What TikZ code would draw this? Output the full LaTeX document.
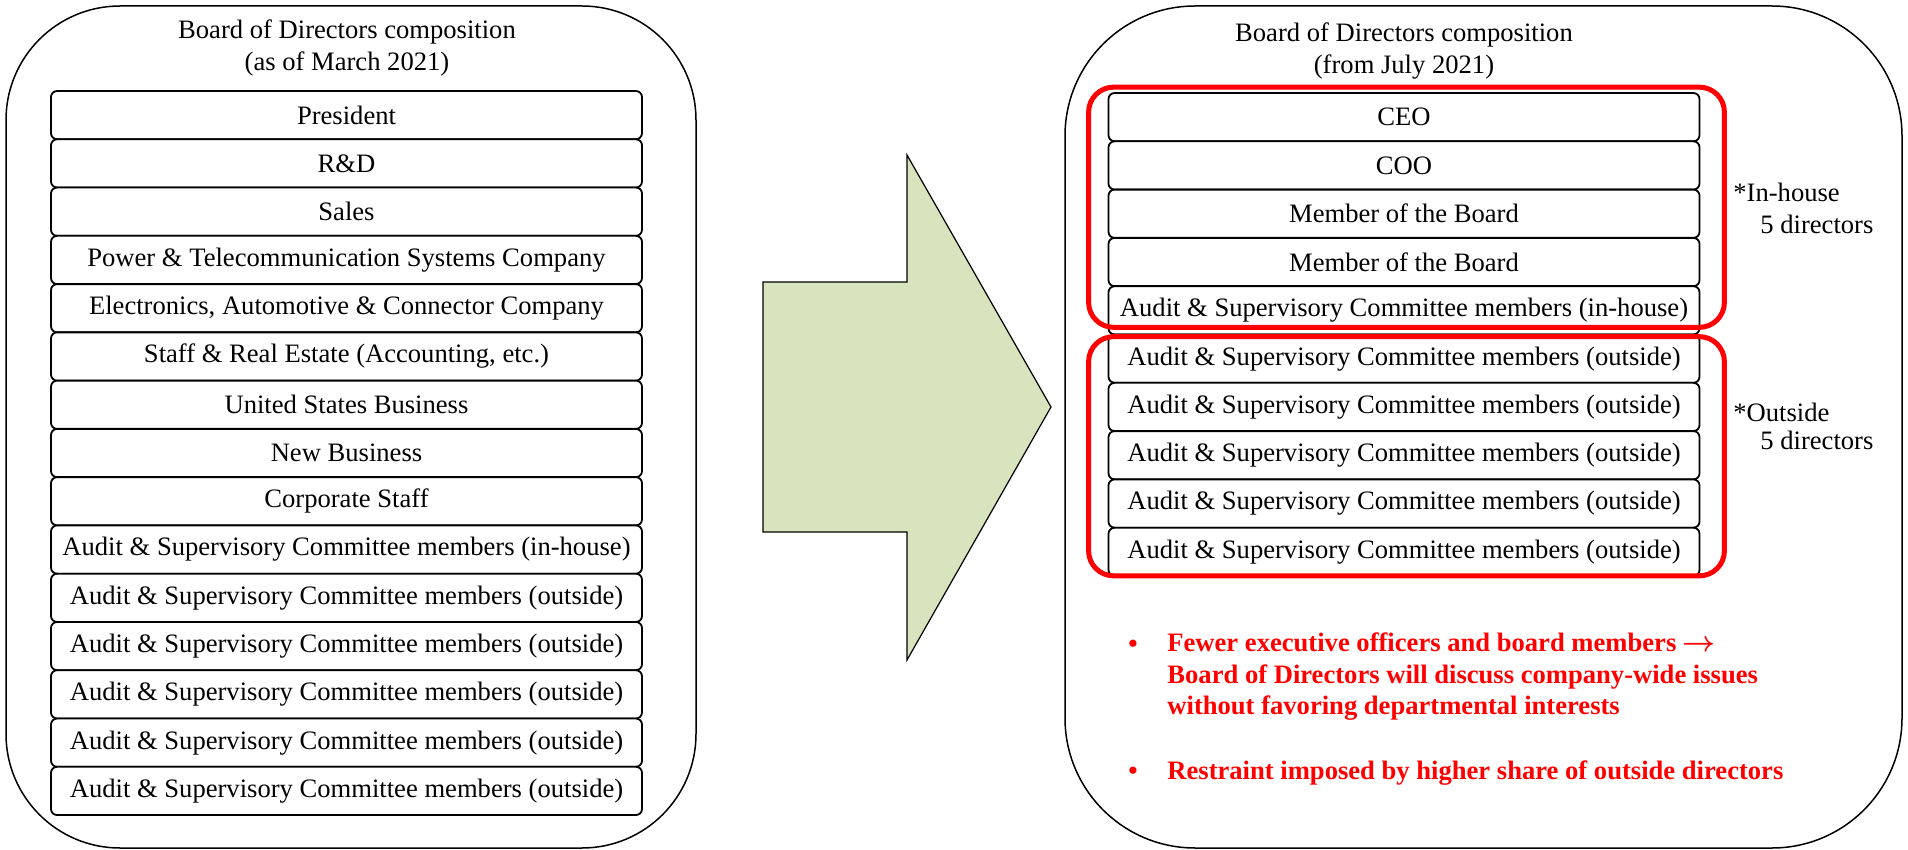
\documentclass[tikz,border=0pt]{standalone}
\usepackage{fontspec}
\setmainfont{Liberation Serif}
\usetikzlibrary{calc}
\definecolor{ArrowClr}{RGB}{215,228,189}
\definecolor{FrameRed}{RGB}{255,0,0}

\begin{document}
\begin{tikzpicture}[x=0.5pt,y=-0.5pt,
  board/.style={draw=black,line width=0.75pt},
  seat/.style={draw=black,line width=0.9pt,rounded corners=3pt,fill=white,
    minimum width=295.5pt,minimum height=24.1pt,inner sep=0pt,
    font=\fontsize{13.3}{15.6}\selectfont},
  heading/.style={align=center,font=\fontsize{13.3}{15.6}\selectfont},
  redframe/.style={draw=FrameRed,line width=2.5pt,rounded corners=12.5pt},
  note/.style={anchor=west,inner sep=0pt,font=\fontsize{13.3}{15.6}\selectfont},
  point/.style={anchor=west,inner sep=0pt,text=FrameRed,align=left,
    font=\bfseries\fontsize{13.3}{15.75}\selectfont}]

\useasboundingbox (0,0) rectangle (1908,850);

\draw[board,rounded corners=57pt] (6,6) rectangle (696,848);
\draw[board,rounded corners=65pt] (1065,6) rectangle (1902,848);

\node[heading] (oldtitle) at (347,48) {Board of Directors composition\\(as of March 2021)};
\node[heading] (newtitle) at (1404,51) {Board of Directors composition\\(from July 2021)};

\foreach \name [count=\i] in {President,R\&D,Sales,
    Power \& Telecommunication Systems Company,
    {Electronics, Automotive \& Connector Company},
    {Staff \& Real Estate (Accounting, etc.)},
    United States Business,New Business,Corporate Staff,
    Audit \& Supervisory Committee members (in-house),
    Audit \& Supervisory Committee members (outside),
    Audit \& Supervisory Committee members (outside),
    Audit \& Supervisory Committee members (outside),
    Audit \& Supervisory Committee members (outside),
    Audit \& Supervisory Committee members (outside)}
  \node[seat] (L\i) at (346.5,{91+48.27*(\i-0.5)}) {\name};

\foreach \name [count=\i] in {CEO,COO,Member of the Board,Member of the Board,
    Audit \& Supervisory Committee members (in-house),
    Audit \& Supervisory Committee members (outside),
    Audit \& Supervisory Committee members (outside),
    Audit \& Supervisory Committee members (outside),
    Audit \& Supervisory Committee members (outside),
    Audit \& Supervisory Committee members (outside)}
  \node[seat] (R\i) at (1404,{93+48.3*(\i-0.5)}) {\name};

\draw[redframe] ($(R1.north west)+(-19,-5)$) rectangle ($(R5.south east)+(24,-8)$);
\draw[redframe] ($(R6.north west)+(-19,3)$) rectangle ($(R10.south east)+(24,-1)$);

\draw[draw=black,fill=ArrowClr,line width=0.6pt] (763,282) -- (907,282) -- (907,155)
  -- (1051,407) -- (907,660) -- (907,532) -- (763,532) -- cycle;

\node[note] (inhouse) at (1733,192) {*In-house};
\node[note] (inhousecount) at (1760,224) {5 directors};
\node[note] (outside) at (1733,412) {*Outside};
\node[note] (outsidecount) at (1760,440) {5 directors};

\node[point] (dot1) at (1128,646) {\textbullet};
\node[point] (point1) at (1167,677) {Fewer executive officers and board members {\boldmath$\rightarrow$}\\
  Board of Directors will discuss company-wide issues\\
  without favoring departmental interests};
\node[point] (dot2) at (1128,773) {\textbullet};
\node[point] (point2) at (1167,773) {Restraint imposed by higher share of outside directors};

\end{tikzpicture}
\end{document}
